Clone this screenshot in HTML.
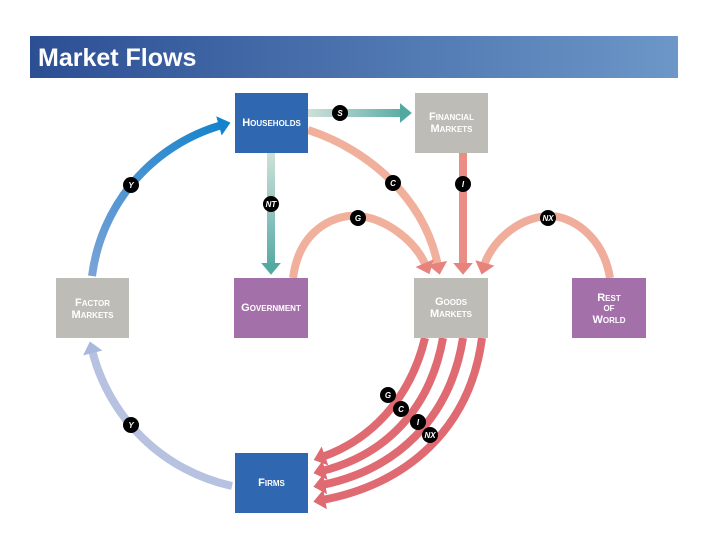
<!DOCTYPE html>
<html><head><meta charset="utf-8"><style>
body{margin:0;background:#fff;width:720px;height:540px;overflow:hidden;font-family:"Liberation Sans",sans-serif}
</style></head><body>
<svg width="720" height="540" viewBox="0 0 720 540" xmlns="http://www.w3.org/2000/svg">
<defs>
<linearGradient id="tb" x1="0" x2="1"><stop offset="0" stop-color="#2c4f94"/><stop offset="1" stop-color="#6c97c8"/></linearGradient>
<linearGradient id="sg" gradientUnits="userSpaceOnUse" x1="308" y1="0" x2="410" y2="0"><stop offset="0" stop-color="#cfe0da"/><stop offset="1" stop-color="#52a9a2"/></linearGradient>
<linearGradient id="ntg" gradientUnits="userSpaceOnUse" x1="0" y1="153" x2="0" y2="270"><stop offset="0" stop-color="#cfe0da"/><stop offset="1" stop-color="#52a9a2"/></linearGradient>
<linearGradient id="yg" gradientUnits="userSpaceOnUse" x1="92" y1="276" x2="230" y2="124"><stop offset="0" stop-color="#7aa3d8"/><stop offset="1" stop-color="#1383cc"/></linearGradient>
<marker id="mr" markerWidth="4" markerHeight="4" refX="0.4" refY="2" orient="auto" markerUnits="strokeWidth"><path d="M0,0.75 L1.5,2 L0,3.25 Z" fill="#e06a72"/></marker>
<marker id="ms" markerWidth="4" markerHeight="4" refX="0.4" refY="2" orient="auto" markerUnits="strokeWidth"><path d="M0,0.75 L1.5,2 L0,3.25 Z" fill="#e8827c"/></marker>
<marker id="mt" markerWidth="4" markerHeight="4" refX="0.4" refY="2" orient="auto" markerUnits="strokeWidth"><path d="M0,0.75 L1.5,2 L0,3.25 Z" fill="#52a9a2"/></marker>
<marker id="mb" markerWidth="4" markerHeight="4" refX="0.4" refY="2" orient="auto" markerUnits="strokeWidth"><path d="M0,0.75 L1.5,2 L0,3.25 Z" fill="#1383cc"/></marker>
<marker id="mp" markerWidth="4" markerHeight="4" refX="0.4" refY="2" orient="auto" markerUnits="strokeWidth"><path d="M0,0.75 L1.5,2 L0,3.25 Z" fill="#a9b8df"/></marker>
</defs>
<rect x="30" y="36" width="648" height="42" fill="url(#tb)"/>
<text x="38" y="66" font-size="25" font-weight="bold" fill="#fff">Market Flows</text>

<g fill="none" stroke-width="8">
<path d="M92,276 A181,181 0 0 1 222,125" stroke="url(#yg)" marker-end="url(#mb)"/>
<path d="M232,486 A185,185 0 0 1 92,350" stroke="#b7c2e1" marker-end="url(#mp)"/>
<path d="M308,113 L403,113" stroke="url(#sg)" marker-end="url(#mt)"/>
<path d="M271,153 L271,266" stroke="url(#ntg)" marker-end="url(#mt)"/>
<path d="M308,130 C370,150 425,200 438,266" stroke="#f1b09c" marker-end="url(#ms)"/>
<path d="M463,153 L463,266" stroke="#e98d85" marker-end="url(#ms)"/>
<path d="M293,278 C300,225 340,214 358,216 C385,218 415,240 426,266" stroke="#f1b09c" marker-end="url(#ms)"/>
<path d="M610,278 C603,235 570,215 548,216 C515,218 490,245 484,266" stroke="#f0ad9b" marker-end="url(#ms)"/>
<path d="M425,338 C410,400 370,440 322,457" stroke="#e06a72" marker-end="url(#mr)"/>
<path d="M443,338 C430,410 385,455 322,471" stroke="#e06a72" marker-end="url(#mr)"/>
<path d="M463,338 C450,420 395,470 322,485" stroke="#e06a72" marker-end="url(#mr)"/>
<path d="M482,338 C470,430 405,485 322,500" stroke="#e06a72" marker-end="url(#mr)"/>
</g>

<g font-size="11" font-weight="bold" fill="#fff" text-anchor="middle" style="font-variant:small-caps">
<rect x="235" y="93" width="73" height="60" fill="#2f67b1"/><text x="271.5" y="126">Households</text>
<rect x="415" y="93" width="73" height="60" fill="#bdbcb6"/><text x="451.5" y="120">Financial</text><text x="451.5" y="132">Markets</text>
<rect x="56" y="278" width="73" height="60" fill="#bdbcb6"/><text x="92.5" y="306">Factor</text><text x="92.5" y="318">Markets</text>
<rect x="234" y="278" width="74" height="60" fill="#a470aa"/><text x="271" y="311">Government</text>
<rect x="414" y="278" width="74" height="60" fill="#bdbcb6"/><text x="451" y="305">Goods</text><text x="451" y="317">Markets</text>
<rect x="572" y="278" width="74" height="60" fill="#a470aa"/><text x="609" y="301">Rest</text><text x="609" y="311">of</text><text x="609" y="323">World</text>
<rect x="235" y="453" width="73" height="60" fill="#2f67b1"/><text x="271.5" y="486">Firms</text>
</g>

<g font-size="8" font-weight="bold" fill="#fff" text-anchor="middle" font-style="italic">
<circle cx="340" cy="113" r="8" fill="#000"/><text x="340" y="116">S</text>
<circle cx="271" cy="204" r="8" fill="#000"/><text x="271" y="207">NT</text>
<circle cx="393" cy="183" r="8" fill="#000"/><text x="393" y="186">C</text>
<circle cx="463" cy="184" r="8" fill="#000"/><text x="463" y="187">I</text>
<circle cx="358" cy="218" r="8" fill="#000"/><text x="358" y="221">G</text>
<circle cx="548" cy="218" r="8" fill="#000"/><text x="548" y="221">NX</text>
<circle cx="131" cy="185" r="8" fill="#000"/><text x="131" y="188">Y</text>
<circle cx="131" cy="425" r="8" fill="#000"/><text x="131" y="428">Y</text>
<circle cx="388" cy="395" r="8" fill="#000"/><text x="388" y="398">G</text>
<circle cx="401" cy="409" r="8" fill="#000"/><text x="401" y="412">C</text>
<circle cx="418" cy="422" r="8" fill="#000"/><text x="418" y="425">I</text>
<circle cx="430" cy="435" r="8" fill="#000"/><text x="430" y="438">NX</text>
</g>
</svg>
</body></html>
